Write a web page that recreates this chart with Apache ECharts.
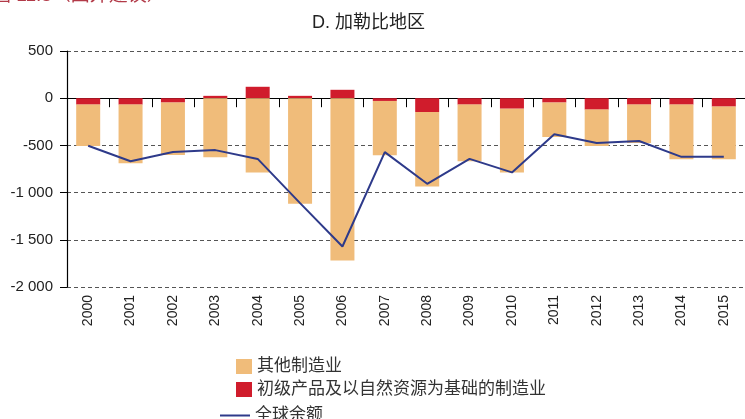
<!DOCTYPE html>
<html>
<head>
<meta charset="utf-8">
<script src="https://cdn.jsdelivr.net/npm/echarts@6/dist/echarts.min.js"></script>
<style>html,body{margin:0;padding:0;background:#fff}#c{width:745px;height:419px}</style>
</head>
<body>
<div id="c"></div>
<script>
var years = ['2000','2001','2002','2003','2004','2005','2006','2007','2008','2009','2010','2011','2012','2013','2014','2015'];
var primary = [-68,-68,-46,25,121,25,89,-29,-146,-68,-111,-46,-121,-68,-68,-89];
var other = [-439,-621,-557,-625,-786,-1118,-1718,-575,-790,-600,-675,-365,-386,-407,-578,-557];
var balance = [-504,-668,-571,-550,-643,-1112,-1571,-571,-907,-643,-786,-382,-475,-454,-621,-621];
var yTicks = [-2000,-1500,-1000,-500,0,500];

var nameOther = '其他制造业';
var namePrimary = '初级产品及以自然资源为基础的制造业';
var nameBalance = '全球余额';

var chart = echarts.init(document.getElementById('c'));
var cjk = 'Liberation Sans, Arial, Noto Sans CJK SC, sans-serif';
chart.setOption({
  animation: false,
  title: {
    text: 'D. 加勒比地区', left: 307, top: 9,
    textStyle: {fontSize: 18, fontWeight: 'normal', color: '#222', fontFamily: cjk}
  },
  graphic: [{
    type: 'text', left: -8, top: -14,
    style: {text: '图 11.5（国外建议）', fontSize: 19, fill: '#b23a48', fontFamily: cjk}
  }],
  legend: [{
    orient: 'vertical', left: 231, top: 353, itemWidth: 16, itemHeight: 15, itemGap: 6,
    icon: 'rect', data: [nameOther, namePrimary],
    textStyle: {fontSize: 17, color: '#333', fontFamily: cjk, lineHeight: 17}
  }, {
    orient: 'vertical', left: 215, top: 402, itemWidth: 30, itemHeight: 2,
    icon: 'rect', data: [nameBalance],
    textStyle: {fontSize: 17, color: '#333', fontFamily: cjk, lineHeight: 17}
  }],
  grid: {left: 67, right: -4, top: 51, bottom: 132, containLabel: false},
  xAxis: [{
    type: 'category', data: years, position: 'bottom',
    axisLine: {onZero: true, lineStyle: {color: '#000', width: 1.2}},
    axisTick: {show: true, length: 9, interval: 0, lineStyle: {color: '#000'}},
    axisLabel: {show: false}
  }, {
    type: 'category', data: years, position: 'bottom',
    axisLine: {show: false, onZero: false},
    axisTick: {show: false},
    axisLabel: {rotate: 90, margin: 8, interval: 0, fontSize: 14, color: '#222', fontFamily: 'Liberation Sans, Arial'}
  }],
  yAxis: {
    type: 'value', min: -2000, max: 500, interval: 500,
    axisLine: {show: true, onZero: false, lineStyle: {color: '#000', width: 1.2}},
    axisTick: {show: true, length: 7, lineStyle: {color: '#000'}},
    axisLabel: {
      margin: 14, fontSize: 15, color: '#222', fontFamily: 'Liberation Sans, Arial',
      formatter: function (v) {
        var s = String(Math.abs(v)).replace(/\B(?=(\d{3})+(?!\d))/g, ' ');
        return (v < 0 ? '-' : '') + s;
      }
    },
    splitLine: {show: true, lineStyle: {color: '#555', type: [4, 3], width: 1}}
  },
  series: [{
    name: namePrimary, type: 'bar', stack: 'a', barWidth: 24,
    itemStyle: {color: '#d01c2c'}, data: primary
  }, {
    name: nameOther, type: 'bar', stack: 'a', barWidth: 24,
    itemStyle: {color: '#f0bc7a'}, data: other
  }, {
    name: nameBalance, type: 'line', symbol: 'none', z: 5,
    lineStyle: {color: '#2e3a8a', width: 2}, itemStyle: {color: '#2e3a8a'},
    data: balance
  }]
});
</script>
</body>
</html>
